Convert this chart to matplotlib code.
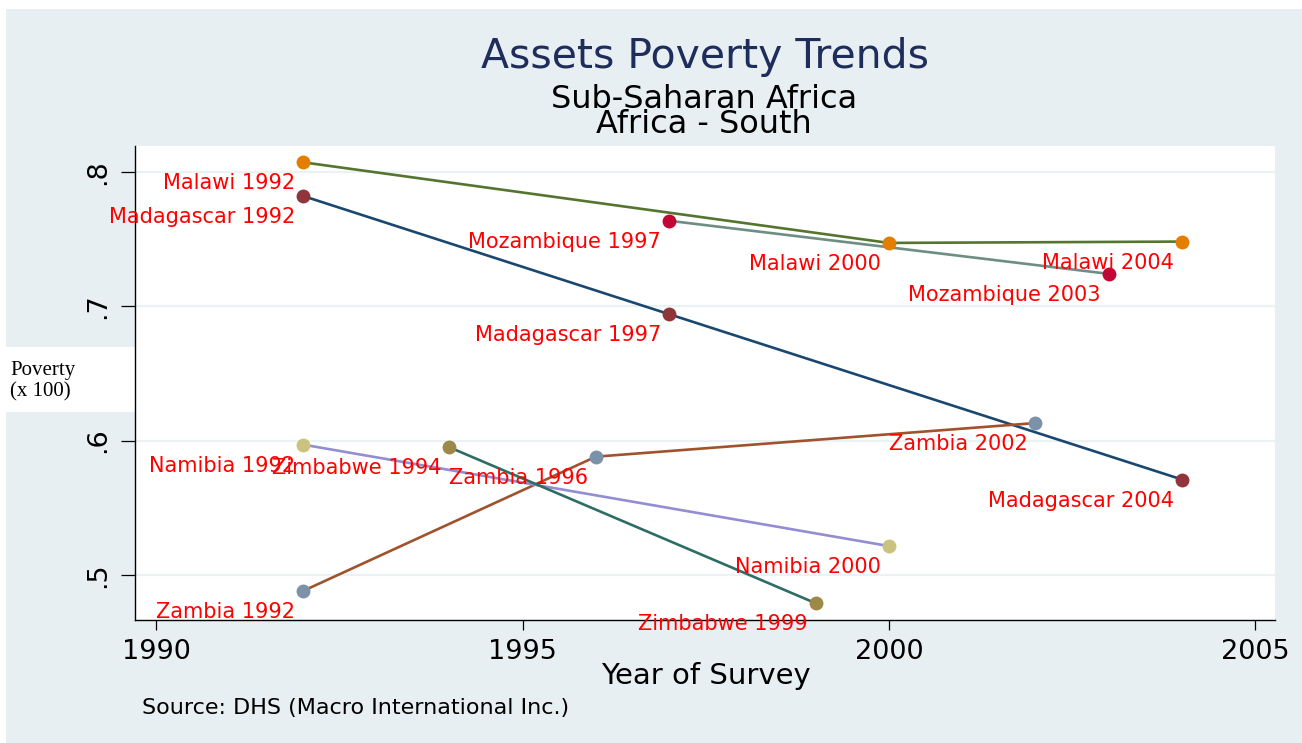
import matplotlib
matplotlib.use("Agg")
import matplotlib.pyplot as plt
from matplotlib.patches import Rectangle

# data
malawi_years = [1992, 2000, 2004]
malawi_pov = [0.807, 0.747, 0.748]
madagascar_years = [1992, 1997, 2004]
madagascar_pov = [0.782, 0.694, 0.571]
mozambique_years = [1997, 2003]
mozambique_pov = [0.7635, 0.724]
zambia_years = [1992, 1996, 2002]
zambia_pov = [0.488, 0.588, 0.613]
namibia_years = [1992, 2000]
namibia_pov = [0.597, 0.5215]
zimbabwe_years = [1994, 1999]
zimbabwe_pov = [0.595, 0.479]

x_ticks = [1990, 1995, 2000, 2005]
y_ticks = [0.5, 0.6, 0.7, 0.8]
y_ticklabels = ['.5', '.6', '.7', '.8']

series = [
    ('Malawi', malawi_years, malawi_pov, '#55752f', '#e37e00'),
    ('Madagascar', madagascar_years, madagascar_pov, '#1a476f', '#90353b'),
    ('Mozambique', mozambique_years, mozambique_pov, '#6e8e84', '#c10534'),
    ('Zambia', zambia_years, zambia_pov, '#a0522d', '#7b92a8'),
    ('Namibia', namibia_years, namibia_pov, '#938dd2', '#cac27e'),
    ('Zimbabwe', zimbabwe_years, zimbabwe_pov, '#2d6d66', '#9c8847'),
]

W, H = 1302, 743
fig = plt.figure(figsize=(W / 100, H / 100), dpi=100)
fig.patch.set_facecolor('white')

# light outer background (Stata s2color style)
fig.patches.append(Rectangle((6 / W, 0), 1 - 6 / W, (H - 9) / H, transform=fig.transFigure,
                             facecolor='#e8eff2', edgecolor='none', zorder=-10))
# white box behind the y title
fig.patches.append(Rectangle((0, (H - 412) / H), 135 / W, 65 / H, transform=fig.transFigure,
                             facecolor='white', edgecolor='none', zorder=-9))

ax = fig.add_axes([135 / W, (H - 620) / H, (1275 - 135) / W, (620 - 146) / H])
ax.set_facecolor('white')

for name, yrs, vals, lc, mc in series:
    ax.plot(yrs, vals, color=lc, lw=1.9, zorder=2)
    ax.plot(yrs, vals, 'o', color=mc, ms=10, mec='none', zorder=3)
    for yr, v in zip(yrs, vals):
        # labels sit below-left of each point, like Stata mlabpos(7)
        ax.annotate(f'{name} {yr}', (yr, v), xytext=(-8, -27), textcoords='offset pixels',
                    ha='right', va='baseline', color='red', fontsize=15, zorder=4)

ax.set_xlim(1989.71, 2005.27)
ax.set_ylim(0.4665, 0.8191)
ax.set_xticks(x_ticks)
ax.set_yticks(y_ticks)
ax.set_yticklabels(y_ticklabels, rotation=90, va='center')
ax.grid(axis='y', color='#eaf2f3', lw=1.6, zorder=0)
ax.set_axisbelow(True)
for s in ['top', 'right']:
    ax.spines[s].set_visible(False)
for s in ['left', 'bottom']:
    ax.spines[s].set_linewidth(1.0)
ax.tick_params(axis='x', length=7.5, width=0.9, labelsize=19.5, pad=6)
ax.tick_params(axis='y', length=10, width=0.9, labelsize=19.5, pad=7)

fig.text(705 / W, 1 - 57 / H, 'Assets Poverty Trends', ha='center', va='center',
         fontsize=29.5, color='#1e2d5c')
fig.text(704 / W, 1 - 112 / H, 'Sub-Saharan Africa\nAfrica - South', ha='center', va='center',
         fontsize=23, linespacing=0.77)
fig.text(706 / W, 1 - 676 / H, 'Year of Survey', ha='center', va='center', fontsize=21)
fig.text(142 / W, 1 - 708 / H, 'Source: DHS (Macro International Inc.)', ha='left', va='center',
         fontsize=16)
fig.text(10 / W, 1 - 370 / H, 'Poverty', ha='left', va='center', fontsize=15,
         family='Liberation Serif')
fig.text(10 / W, 1 - 392 / H, '(x 100)', ha='left', va='center', fontsize=15,
         family='Liberation Serif')

fig.savefig('out.png', dpi=100)
